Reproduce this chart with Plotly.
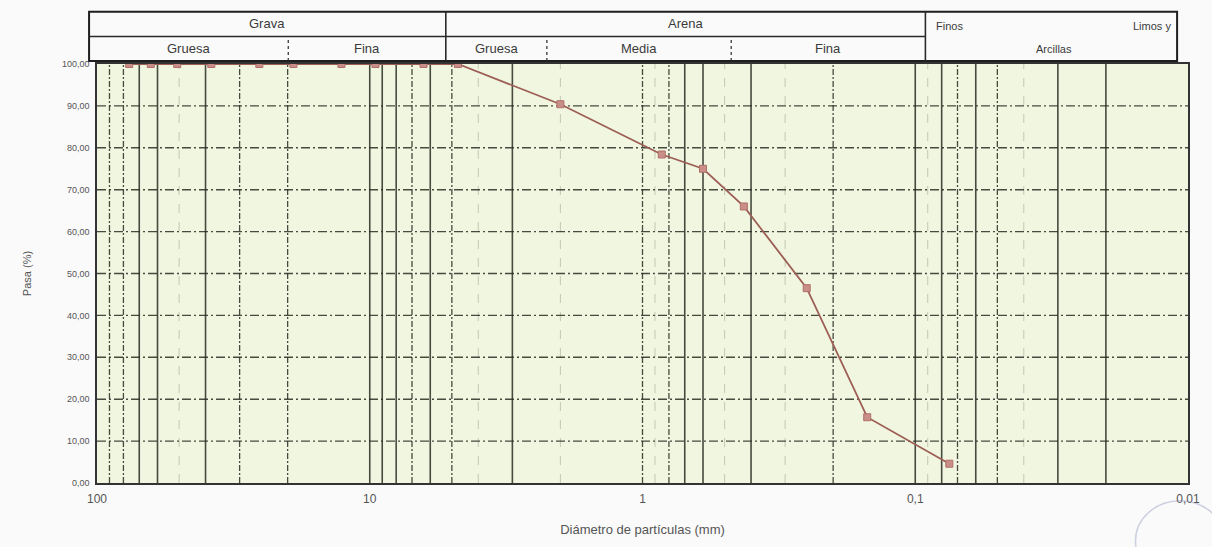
import plotly.graph_objects as go

# Sieve analysis: particle diameter (mm) vs. percent passing
diametro_mm = [76.2, 63.5, 50.8, 38.1, 25.4, 19.05, 12.7, 9.525, 6.35, 4.75,
               2.0, 0.85, 0.60, 0.425, 0.25, 0.15, 0.075]
pasa_pct = [100.0, 100.0, 100.0, 100.0, 100.0, 100.0, 100.0, 100.0, 100.0, 100.0,
            90.4, 78.4, 75.0, 66.0, 46.5, 15.7, 4.6]

y_ticks = [0, 10, 20, 30, 40, 50, 60, 70, 80, 90, 100]
y_tick_labels = ["0,00", "10,00", "20,00", "30,00", "40,00", "50,00",
                 "60,00", "70,00", "80,00", "90,00", "100,00"]
x_ticks = [100, 10, 1, 0.1, 0.01]
x_tick_labels = ["100", "10", "1", "0,1", "0,01"]

# Vertical grid lines of the log paper
grid_solid = [70, 60, 40, 10, 9, 8, 6, 3, 0.7, 0.6, 0.4, 0.1, 0.08, 0.06, 0.03, 0.02]
grid_dashed = [90, 80, 30, 20, 7, 5, 1, 0.8, 0.2, 0.07, 0.05]
grid_faint = [50, 4, 2, 0.9, 0.5, 0.3, 0.09, 0.04]
grid_horizontal = [10, 20, 30, 40, 50, 60, 70, 80, 90]

# Classification header (Grava / Arena / Finos)
header_top = ["Grava", "Arena"]
header_sub = ["Gruesa", "Fina", "Gruesa", "Media", "Fina"]

W, H = 1212, 547
L, R, T, B = 97, 1198, 64, 490
GRID = "rgba(40,45,35,0.85)"


def px_x(px):
    return (px - L) / (R - L)


def px_y(py):
    return (B - py) / (B - T)


def vlines(values):
    xs, ys = [], []
    for v in values:
        xs += [v, v, None]
        ys += [0, 100, None]
    return xs, ys


def hlines(values):
    xs, ys = [], []
    for v in values:
        xs += [100, 0.01, None]
        ys += [v, v, None]
    return xs, ys


fig = go.Figure()

for vals, color, width, dash in [
    (grid_faint, "rgba(90,95,80,0.3)", 1, "dash"),
    (grid_dashed, GRID, 1.3, "6px,2px,2px,2px"),
    (grid_solid, GRID, 1.6, "solid"),
]:
    gx, gy = vlines(vals)
    fig.add_trace(go.Scatter(x=gx, y=gy, mode="lines", hoverinfo="skip",
                             line=dict(color=color, width=width, dash=dash),
                             showlegend=False))

hx, hy = hlines(grid_horizontal)
fig.add_trace(go.Scatter(x=hx, y=hy, mode="lines", hoverinfo="skip",
                         line=dict(color=GRID, width=1.4, dash="9px,3px,2px,3px"),
                         showlegend=False))

fig.add_trace(go.Scatter(
    x=diametro_mm, y=pasa_pct, mode="lines+markers", showlegend=False,
    line=dict(color="#9c5e55", width=1.8),
    marker=dict(symbol="square", size=7, color="#c98e88",
                line=dict(color="#b07068", width=1)),
))

# Header table
shapes = []
edge = dict(color="#2a2a2a", width=1.6)
x_left, x_gf, x_ga, x_gm, x_mf, x_af, x_right = 89, 290, 449, 551, 737, 933, 1187
y_top, y_mid, y_bot = 11, 36, 61
shapes.append(dict(type="rect", xref="paper", yref="paper",
                   x0=px_x(x_left), x1=px_x(x_right), y0=px_y(y_bot), y1=px_y(y_top),
                   line=dict(color="#1e1e1e", width=2), fillcolor="rgba(255,255,255,0)"))
shapes.append(dict(type="line", xref="paper", yref="paper",
                   x0=px_x(x_left), x1=px_x(x_af), y0=px_y(y_mid), y1=px_y(y_mid), line=edge))
for xv in [x_ga, x_af]:
    shapes.append(dict(type="line", xref="paper", yref="paper",
                       x0=px_x(xv), x1=px_x(xv), y0=px_y(y_bot), y1=px_y(y_top), line=edge))
for xv in [x_gf, x_gm, x_mf]:
    shapes.append(dict(type="line", xref="paper", yref="paper",
                       x0=px_x(xv), x1=px_x(xv), y0=px_y(y_bot), y1=px_y(y_mid),
                       line=dict(color="#2a2a2a", width=1.2, dash="dot")))

# faint ink stamp in the lower right corner
shapes.append(dict(type="circle", xref="paper", yref="paper",
                   x0=px_x(1145), x1=px_x(1235), y0=px_y(590), y1=px_y(508),
                   line=dict(color="rgba(120,130,175,0.35)", width=1.5)))

annotations = []
hfont = dict(family="Liberation Sans, Arial", size=13, color="#3a3a3a")
top_centers = [(x_left + x_ga) / 2, (x_ga + x_af) / 2]
for label, cx in zip(header_top, top_centers):
    annotations.append(dict(text=label, x=px_x(cx), y=px_y(23), xref="paper", yref="paper",
                            xanchor="center", yanchor="middle", showarrow=False, font=hfont))
sub_bounds = [x_left, x_gf, x_ga, x_gm, x_mf, x_af]
for i, label in enumerate(header_sub):
    cx = (sub_bounds[i] + sub_bounds[i + 1]) / 2
    annotations.append(dict(text=label, x=px_x(cx), y=px_y(48), xref="paper", yref="paper",
                            xanchor="center", yanchor="middle", showarrow=False, font=hfont))
sfont = dict(family="Liberation Sans, Arial", size=11, color="#3a3a3a")
for label, cx, cy in [("Finos", 957, 25), ("Limos y", 1162, 25), ("Arcillas", 1063, 49)]:
    annotations.append(dict(text=label, x=px_x(cx), y=px_y(cy), xref="paper", yref="paper",
                            xanchor="center", yanchor="middle", showarrow=False, font=sfont))

fig.update_layout(
    width=W, height=H,
    margin=dict(l=L, r=W - R, t=T, b=H - B),
    paper_bgcolor="#fafafa",
    plot_bgcolor="#f1f6e0",
    shapes=shapes,
    annotations=annotations,
    font=dict(family="Liberation Sans, Arial", color="#444444"),
)
fig.update_xaxes(
    type="log", range=[2, -2], tickvals=x_ticks, ticktext=x_tick_labels,
    showgrid=False, zeroline=False, showline=True, linecolor="#333333", linewidth=1.5,
    mirror=True, ticks="outside", ticklen=4, tickcolor="rgba(0,0,0,0)",
    tickfont=dict(size=12, color="#555555"),
    title=dict(text="Diámetro de partículas (mm)", font=dict(size=13, color="#555555"),
               standoff=20),
)
fig.update_yaxes(
    range=[0, 100], tickvals=y_ticks, ticktext=y_tick_labels,
    showgrid=False, zeroline=False, showline=True, linecolor="#333333", linewidth=1.5,
    mirror=True, ticks="outside", ticklen=4, tickcolor="rgba(0,0,0,0)",
    tickfont=dict(size=9, color="#555555"),
    title=dict(text="Pasa (%)", font=dict(size=11, color="#555555"), standoff=28),
)

fig.write_html("out.html")
